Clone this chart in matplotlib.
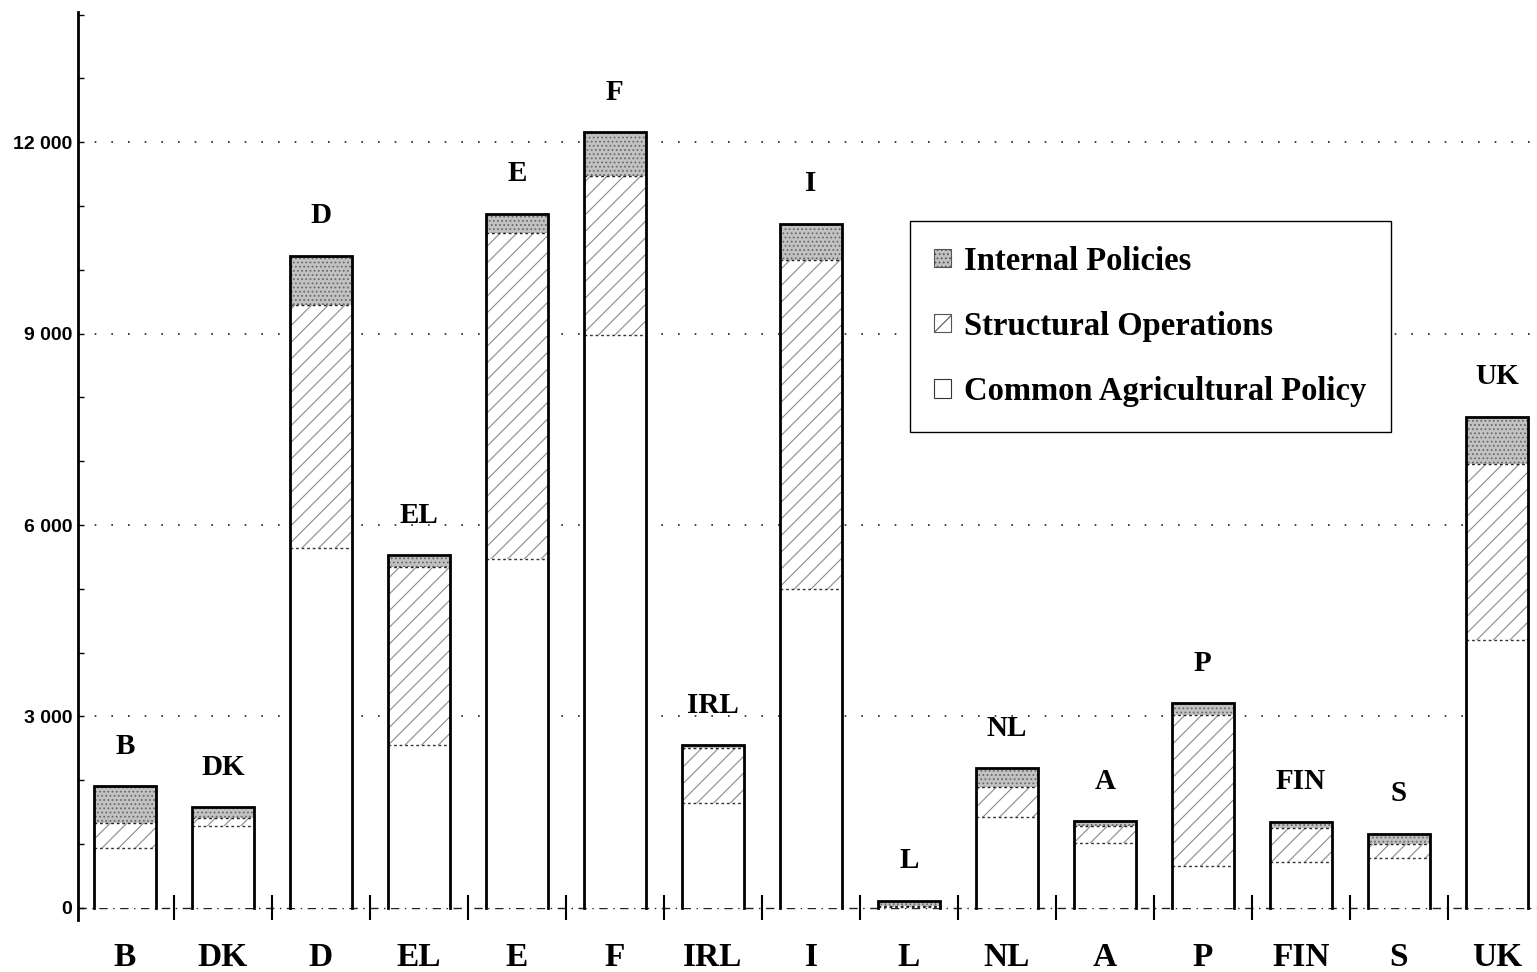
import numpy as np
import matplotlib.pyplot as plt
from matplotlib.patches import Patch

# -------------------------------------------------------------------------------------
# Data (million ECU)
countries = ['B', 'DK', 'D', 'EL', 'E', 'F', 'IRL', 'I', 'L', 'NL', 'A', 'P', 'FIN', 'S', 'UK']
cap = [940, 1290, 5640, 2550, 5470, 8970, 1650, 5000, 20, 1430, 1020, 660, 720, 780, 4200]
structural = [390, 120, 3800, 2790, 5110, 2500, 860, 5160, 15, 470, 270, 2370, 530, 220, 2760]
internal = [580, 170, 780, 190, 300, 690, 40, 560, 75, 290, 70, 180, 100, 160, 740]
y_ticks = [0, 3000, 6000, 9000, 12000]
y_labels = ['0', '3 000', '6 000', '9 000', '12 000']
legend_labels = ['Internal Policies', 'Structural Operations', 'Common Agricultural Policy']
# -------------------------------------------------------------------------------------

plt.rcParams['hatch.linewidth'] = 0.8
serif = ['Liberation Serif', 'DejaVu Serif']
sans = ['Liberation Sans', 'DejaVu Sans']

fig = plt.figure(figsize=(15.37, 9.72), dpi=100)
ax = fig.add_axes([0.0507, 0.0535, 0.9493, 0.9342])

x = np.arange(len(countries))
cap = np.array(cap, dtype=float)
structural = np.array(structural, dtype=float)
internal = np.array(internal, dtype=float)
total = cap + structural + internal
width = 0.63

# stacked segments, hatch takes the edge colour, edge itself not drawn
ax.bar(x, cap, width, color='white', edgecolor='white', linewidth=0, zorder=2)
ax.bar(x, structural, width, bottom=cap, color='white', edgecolor='#8a8a8a',
       linewidth=0, hatch='//', zorder=2)
ax.bar(x, internal, width, bottom=cap + structural, color='#c2c2c2', edgecolor='#6a6a6a',
       linewidth=0, hatch='....', zorder=2)

# outlines: solid sides and top, dotted splits between segments
for xi, c, s, t in zip(x, cap, structural, total):
    x0, x1 = xi - width / 2, xi + width / 2
    ax.plot([x0, x0, x1, x1], [0, t, t, 0], color='black', lw=2.0,
            solid_joinstyle='miter', zorder=4)
    ax.plot([x0, x1], [c, c], color='#333333', lw=1.0, ls=(0, (2, 2)), zorder=3)
    ax.plot([x0, x1], [c + s, c + s], color='#222222', lw=1.0, ls=(0, (2, 2)), zorder=3)
    ax.annotate(countries[xi], (xi, t), xytext=(0, 19), textcoords='offset points',
                ha='center', va='bottom', fontsize=21, fontweight='bold', family=serif)

# grid and baseline
for v in y_ticks[1:]:
    ax.axhline(v, color='#222222', lw=1.2, ls=(0, (1, 9)), zorder=1)
ax.axhline(0, color='#222222', lw=1.0, ls=(0, (6, 4, 1, 4)), zorder=1)

ax.set_xlim(-0.48, 14.41)
ax.set_ylim(-190, 14040)

for side in ['top', 'right', 'bottom']:
    ax.spines[side].set_visible(False)
ax.spines['left'].set_linewidth(2.0)

# category separators along the bottom, names under each bar
ax.set_xticks(np.arange(len(countries) - 1) + 0.5)
ax.set_xticklabels([])
ax.tick_params(axis='x', which='major', direction='in', length=18, width=1.5)
ax.set_xticks(x, minor=True)
ax.set_xticklabels(countries, minor=True, fontsize=24, fontweight='bold', family=serif)
ax.tick_params(axis='x', which='minor', length=0, pad=16)

ax.set_yticks(y_ticks)
ax.set_yticklabels(y_labels, fontsize=14, fontweight='bold', family=sans)
ax.set_yticks(np.arange(0, 14001, 1000), minor=True)
ax.tick_params(axis='y', which='major', direction='in', length=4, width=1, pad=4)
ax.tick_params(axis='y', which='minor', direction='in', length=4, width=1)

handles = [Patch(facecolor='#c2c2c2', edgecolor='#555555', hatch='....', lw=0.8),
           Patch(facecolor='white', edgecolor='#555555', hatch='//', lw=0.8),
           Patch(facecolor='white', edgecolor='#333333', lw=0.8)]
leg = fig.legend(handles, legend_labels, loc='upper left',
                 bbox_to_anchor=(0.592, 0.7726), bbox_transform=fig.transFigure,
                 prop={'family': serif, 'weight': 'bold', 'size': 23.5},
                 handlelength=0.5, handleheight=0.5, handletextpad=0.4,
                 labelspacing=1.05, borderpad=0.75, borderaxespad=0,
                 fancybox=False, framealpha=1, edgecolor='black')
leg.get_frame().set_linewidth(1.0)

fig.savefig('out.png', dpi=100)
